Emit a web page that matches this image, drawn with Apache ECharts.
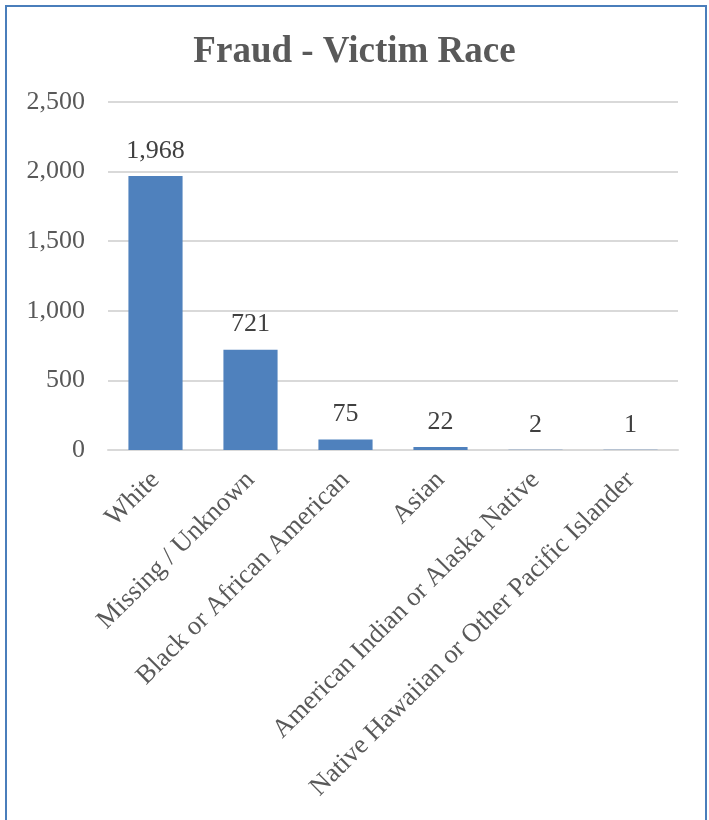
<!DOCTYPE html>
<html>
<head>
<meta charset="utf-8">
<script src="https://cdn.jsdelivr.net/npm/echarts@6/dist/echarts.min.js"></script>
<style>
html,body{margin:0;padding:0;background:#fff;}
#chart{width:709px;height:820px;}
</style>
</head>
<body>
<div id="chart"></div>
<script>
const categories = ["White", "Missing / Unknown", "Black or African American", "Asian", "American Indian or Alaska Native", "Native Hawaiian or Other Pacific Islander"];
const values = [1968, 721, 75, 22, 2, 1];
const yTicks = [0, 500, 1000, 1500, 2000, 2500];

const chart = echarts.init(document.getElementById('chart'));
const serif = '"Liberation Serif", "Times New Roman", serif';
chart.setOption({
  animation: false,
  title: {
    text: 'Fraud - Victim Race',
    left: 'center',
    top: 29,
    textStyle: { fontFamily: serif, fontSize: 37, fontWeight: 'bold', color: '#595959' }
  },
  graphic: [{
    type: 'rect',
    shape: { x: 6, y: 6, width: 700, height: 900 },
    style: { fill: null, stroke: '#4a7ebb', lineWidth: 2 },
    silent: true
  }],
  grid: { left: 108, right: 31, top: 102, bottom: 370, containLabel: false },
  xAxis: {
    type: 'category',
    data: categories,
    axisLine: { show: true, lineStyle: { color: '#d9d9d9', width: 2 } },
    axisTick: { show: false },
    axisLabel: {
      rotate: 45,
      interval: 0,
      margin: 26,
      fontFamily: serif,
      fontSize: 26.5,
      color: '#595959'
    }
  },
  yAxis: {
    type: 'value',
    min: 0,
    max: 2500,
    interval: 500,
    axisLine: { show: false },
    axisTick: { show: false },
    splitLine: { lineStyle: { color: '#d9d9d9', width: 2 } },
    axisLabel: {
      margin: 23,
      fontFamily: serif,
      fontSize: 26,
      color: '#595959',
      formatter: v => yTicks.includes(v) ? v.toLocaleString('en-US') : ''
    }
  },
  series: [{
    type: 'bar',
    data: values,
    barWidth: '57%',
    itemStyle: { color: '#4f81bd' },
    label: {
      show: true,
      position: 'top',
      distance: 12,
      fontFamily: serif,
      fontSize: 26,
      color: '#404040',
      formatter: p => p.value.toLocaleString('en-US')
    }
  }]
});
</script>
</body>
</html>
